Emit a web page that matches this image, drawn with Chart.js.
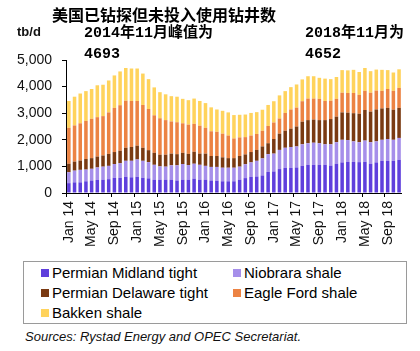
<!DOCTYPE html>
<html>
<head>
<meta charset="utf-8">
<script src="https://cdn.jsdelivr.net/npm/chart.js@4/dist/chart.umd.min.js"></script>
<style>
  html, body { margin: 0; padding: 0; background: #fff; }
  #wrap { position: relative; width: 420px; height: 351px; overflow: hidden; font-family: "Liberation Sans", Arial, sans-serif; }
  #chart { position: absolute; left: 0; top: 0; }
  .txt { position: absolute; white-space: nowrap; color: #000; }
  #title { left: 52px; top: 2px; font: bold 16px "Noto Sans CJK SC", sans-serif; }
  #unit { left: 17px; top: 24px; font: bold 13px "Liberation Sans", Arial, sans-serif; color: #111; }
  .note { font: bold 15px "Liberation Mono", "Noto Sans CJK SC", monospace; line-height: 21px; }
  #note1 { left: 84px; top: 23px; }
  #note2 { left: 305px; top: 23px; }
  #legend { position: absolute; left: 23px; top: 261px; width: 384px; height: 63px; border: 1px solid #9a9a9a; box-sizing: border-box; }
  .item { position: absolute; font-size: 15px; color: #000; line-height: 18px; }
  .item i { display: inline-block; width: 8px; height: 8px; margin-right: 3px; vertical-align: 1px; }
  #source { left: 25px; top: 329px; font: italic 13px "Liberation Sans", Arial, sans-serif; color: #111; }
</style>
</head>
<body>
<div id="wrap">
  <canvas id="chart" width="420" height="260"></canvas>
  <div class="txt" id="title">美国已钻探但未投入使用钻井数</div>
  <div class="txt" id="unit">tb/d</div>
  <div class="txt note" id="note1">2014年11月峰值为<br>4693</div>
  <div class="txt note" id="note2">2018年11月为<br>4652</div>
  <div id="legend"></div>
  <div class="txt" id="source">Sources: Rystad Energy and OPEC Secretariat.</div>
</div>
<script>
/* ── Data (tb/d, monthly Jan 14 – Nov 18) ─────────────────────────────── */
const MONTHS = ['Jan', 'Feb', 'Mar', 'Apr', 'May', 'Jun', 'Jul', 'Aug', 'Sep', 'Oct', 'Nov', 'Dec'];
const YEARS = ['14', '15', '16', '17', '18'];
const LAST_MONTH = 'Nov 18';

const labels = [];
for (const y of YEARS) {
  for (const m of MONTHS) {
    labels.push(m + ' ' + y);
    if (m + ' ' + y === LAST_MONTH) break;
  }
}

const permianMidland = [370,400,400,440,470,490,500,520,570,570, 610,590,610,570,550,500,500,500,500,470,
                        500,500,540,500,500,470,460,440,440,440, 500,560,610,620,660,790,810,900,940,940,
                        960,1020,1060,1060,1060,1060,1030,1100,1150,1170, 1170,1160,1170,1100,1150,1210,1210,1210,1250];
const niobrara       = [410,440,470,440,440,470,490,500,520,550, 600,620,650,640,610,560,500,490,540,570,
                        590,550,560,560,520,510,520,510,510,510, 490,520,540,590,640,670,670,720,760,790,
                        790,810,810,830,810,770,800,810,850,820, 770,750,800,810,790,790,820,790,820];
const permianDelaware = [320,340,350,400,400,410,420,450,450,470, 490,520,520,490,450,450,440,450,440,420,
                        420,420,450,420,460,410,410,390,360,360, 400,370,390,410,450,410,550,610,640,690,
                        750,850,870,870,870,910,950,960,1030,1030, 1060,1070,1150,1150,1200,1180,1170,1130,1130];
const eagleFord      = [1350,1360,1400,1430,1480,1480,1480,1560,1660,1710, 1770,1730,1680,1610,1550,1410,1370,1300,1210,1200,
                        1110,1100,1050,1050,970,930,910,890,850,740, 700,650,620,600,590,650,620,570,670,720,
                        710,770,810,790,800,720,690,670,740,740, 760,710,720,710,710,660,710,710,750];
const bakken         = [1010,1080,1120,1120,1120,1200,1180,1200,1220,1270, 1230,1220,1220,1180,1120,1050,980,970,950,960,
                        920,920,950,930,930,900,840,860,870,880, 850,850,850,820,790,790,800,870,820,840,
                        870,820,840,840,790,840,810,820,850,850, 870,860,860,810,790,790,710,690,700];

const yTicks = [0, 1000, 2000, 3000, 4000, 5000];

const SERIES = [
  { name: 'Permian Midland tight',   data: permianMidland,  color: '#5f3fdc' },
  { name: 'Niobrara shale',          data: niobrara,        color: '#a68fea' },
  { name: 'Permian Delaware tight',  data: permianDelaware, color: '#7a3a12' },
  { name: 'Eagle Ford shale',        data: eagleFord,       color: '#ec8343' },
  { name: 'Bakken shale',            data: bakken,          color: '#ffd35c' },
];

/* ── Chart ─────────────────────────────────────────────────────────────── */
const tickFont = { family: '"Liberation Sans", Arial, sans-serif', size: 14 };

new Chart(document.getElementById('chart').getContext('2d'), {
  type: 'bar',
  data: {
    labels,
    datasets: SERIES.map(s => ({
      label: s.name,
      data: s.data,
      backgroundColor: s.color,
      borderWidth: 0,
      barPercentage: 0.62,
      categoryPercentage: 1,
    })),
  },
  options: {
    responsive: false,
    animation: false,
    layout: { padding: { top: 60, right: 16, left: 0, bottom: 0 } },
    plugins: { legend: { display: false }, tooltip: { enabled: false } },
    scales: {
      x: {
        stacked: true,
        grid: {
          drawOnChartArea: false,
          tickLength: 4,
          color: ctx => (ctx.index % 4 === 0 ? '#000' : 'rgba(0,0,0,0)'),
        },
        border: { display: true, color: '#000', width: 1 },
        ticks: {
          autoSkip: false,
          minRotation: 90,
          maxRotation: 90,
          padding: 4,
          color: '#111',
          font: tickFont,
          callback: (v, i) => (i % 4 === 0 ? labels[i] : ''),
        },
        afterFit: s => { s.height = 67; },
      },
      y: {
        stacked: true,
        min: 0,
        max: 5000,
        afterBuildTicks: s => { s.ticks = yTicks.map(v => ({ value: v })); },
        grid: { drawOnChartArea: false, tickLength: 4, color: '#000' },
        border: { display: true, color: '#000', width: 1 },
        ticks: {
          padding: 10,
          color: '#111',
          font: tickFont,
          callback: v => v.toLocaleString('en-US'),
        },
        afterFit: s => { s.width = 66; },
      },
    },
  },
});

/* ── Legend (two-column box) ───────────────────────────────────────────── */
const legendPos = [[17, 2], [209, 2], [17, 22], [209, 22], [17, 42]];
const legendEl = document.getElementById('legend');
SERIES.forEach((s, i) => {
  const d = document.createElement('div');
  d.className = 'item';
  d.style.left = legendPos[i][0] + 'px';
  d.style.top = legendPos[i][1] + 'px';
  d.innerHTML = '<i style="background:' + s.color + '"></i>' + s.name;
  legendEl.appendChild(d);
});
</script>
</body>
</html>
